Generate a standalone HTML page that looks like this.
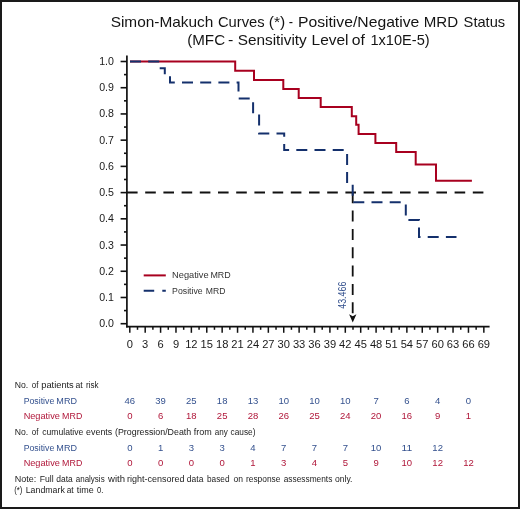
<!DOCTYPE html>
<html><head><meta charset="utf-8"><style>
html,body{margin:0;padding:0;background:#fff;}
svg{display:block;font-family:"Liberation Sans", sans-serif;will-change:transform;}
</style></head><body>
<svg width="520" height="509" viewBox="0 0 520 509">
<rect x="1" y="1" width="518" height="507" fill="#fff" stroke="#1a1a1a" stroke-width="2"/>
<text id="t1_0" x="110.67" y="26.7" font-size="15" textLength="102.70" lengthAdjust="spacingAndGlyphs" fill="#141414">Simon-Makuch</text>
<text id="t1_1" x="217.91" y="26.7" font-size="15" textLength="46.71" lengthAdjust="spacingAndGlyphs" fill="#141414">Curves</text>
<text id="t1_2" x="268.76" y="26.7" font-size="15" textLength="16.51" lengthAdjust="spacingAndGlyphs" fill="#141414">(*)</text>
<text id="t1_3" x="288.70" y="26.7" font-size="15" textLength="4.27" lengthAdjust="spacingAndGlyphs" fill="#141414">-</text>
<text id="t1_4" x="297.95" y="26.7" font-size="15" textLength="121.40" lengthAdjust="spacingAndGlyphs" fill="#141414">Positive/Negative</text>
<text id="t1_5" x="423.69" y="26.7" font-size="15" textLength="34.39" lengthAdjust="spacingAndGlyphs" fill="#141414">MRD</text>
<text id="t1_6" x="463.61" y="26.7" font-size="15" textLength="41.52" lengthAdjust="spacingAndGlyphs" fill="#141414">Status</text>
<text id="t2_0" x="187.19" y="45.4" font-size="15" textLength="37.92" lengthAdjust="spacingAndGlyphs" fill="#141414">(MFC</text>
<text id="t2_1" x="228.01" y="45.4" font-size="15" textLength="5.33" lengthAdjust="spacingAndGlyphs" fill="#141414">-</text>
<text id="t2_2" x="237.67" y="45.4" font-size="15" textLength="69.14" lengthAdjust="spacingAndGlyphs" fill="#141414">Sensitivity</text>
<text id="t2_3" x="311.58" y="45.4" font-size="15" textLength="36.91" lengthAdjust="spacingAndGlyphs" fill="#141414">Level</text>
<text id="t2_4" x="351.86" y="45.4" font-size="15" textLength="13.14" lengthAdjust="spacingAndGlyphs" fill="#141414">of</text>
<text id="t2_5" x="370.43" y="45.4" font-size="15" textLength="59.24" lengthAdjust="spacingAndGlyphs" fill="#141414">1x10E-5)</text>
<text id="lg1_0" x="172.09" y="278.25" font-size="9.2" textLength="36.50" lengthAdjust="spacingAndGlyphs" fill="#333">Negative</text>
<text id="lg1_1" x="210.41" y="278.25" font-size="9.2" textLength="20.31" lengthAdjust="spacingAndGlyphs" fill="#333">MRD</text>
<text id="lg2_0" x="172.11" y="293.75" font-size="9.2" textLength="30.58" lengthAdjust="spacingAndGlyphs" fill="#333">Positive</text>
<text id="lg2_1" x="205.76" y="293.75" font-size="9.2" textLength="19.69" lengthAdjust="spacingAndGlyphs" fill="#333">MRD</text>
<text id="h1_0" x="14.74" y="388.0" font-size="9.6" textLength="13.45" lengthAdjust="spacingAndGlyphs" fill="#222">No.</text>
<text id="h1_1" x="31.82" y="388.0" font-size="9.6" textLength="6.67" lengthAdjust="spacingAndGlyphs" fill="#222">of</text>
<text id="h1_2" x="41.24" y="388.0" font-size="9.6" textLength="32.54" lengthAdjust="spacingAndGlyphs" fill="#222">patients</text>
<text id="h1_3" x="75.41" y="388.0" font-size="9.6" textLength="7.21" lengthAdjust="spacingAndGlyphs" fill="#222">at</text>
<text id="h1_4" x="86.00" y="388.0" font-size="9.6" textLength="12.53" lengthAdjust="spacingAndGlyphs" fill="#222">risk</text>
<text id="p1_0" x="23.67" y="403.7" font-size="9.6" textLength="30.66" lengthAdjust="spacingAndGlyphs" fill="#34518e">Positive</text>
<text id="p1_1" x="56.35" y="403.7" font-size="9.6" textLength="20.62" lengthAdjust="spacingAndGlyphs" fill="#34518e">MRD</text>
<text id="n1_0" x="23.64" y="419.3" font-size="9.6" textLength="36.24" lengthAdjust="spacingAndGlyphs" fill="#b0173a">Negative</text>
<text id="n1_1" x="62.12" y="419.3" font-size="9.6" textLength="20.20" lengthAdjust="spacingAndGlyphs" fill="#b0173a">MRD</text>
<text id="h2_0" x="14.74" y="434.5" font-size="9.6" textLength="13.45" lengthAdjust="spacingAndGlyphs" fill="#222">No.</text>
<text id="h2_1" x="31.82" y="434.5" font-size="9.6" textLength="6.67" lengthAdjust="spacingAndGlyphs" fill="#222">of</text>
<text id="h2_2" x="42.29" y="434.5" font-size="9.6" textLength="41.07" lengthAdjust="spacingAndGlyphs" fill="#222">cumulative</text>
<text id="h2_3" x="86.11" y="434.5" font-size="9.6" textLength="26.09" lengthAdjust="spacingAndGlyphs" fill="#222">events</text>
<text id="h2_4" x="115.00" y="434.5" font-size="9.6" textLength="76.21" lengthAdjust="spacingAndGlyphs" fill="#222">(Progression/Death</text>
<text id="h2_5" x="193.79" y="434.5" font-size="9.6" textLength="17.98" lengthAdjust="spacingAndGlyphs" fill="#222">from</text>
<text id="h2_6" x="214.86" y="434.5" font-size="9.6" textLength="13.00" lengthAdjust="spacingAndGlyphs" fill="#222">any</text>
<text id="h2_7" x="230.58" y="434.5" font-size="9.6" textLength="24.84" lengthAdjust="spacingAndGlyphs" fill="#222">cause)</text>
<text id="p2_0" x="23.67" y="450.5" font-size="9.6" textLength="30.66" lengthAdjust="spacingAndGlyphs" fill="#34518e">Positive</text>
<text id="p2_1" x="56.35" y="450.5" font-size="9.6" textLength="20.62" lengthAdjust="spacingAndGlyphs" fill="#34518e">MRD</text>
<text id="n2_0" x="23.64" y="466.2" font-size="9.6" textLength="36.24" lengthAdjust="spacingAndGlyphs" fill="#b0173a">Negative</text>
<text id="n2_1" x="62.12" y="466.2" font-size="9.6" textLength="20.20" lengthAdjust="spacingAndGlyphs" fill="#b0173a">MRD</text>
<text id="nt_0" x="14.66" y="482.3" font-size="9.3" textLength="21.52" lengthAdjust="spacingAndGlyphs" fill="#222">Note:</text>
<text id="nt_1" x="39.71" y="482.3" font-size="9.3" textLength="13.91" lengthAdjust="spacingAndGlyphs" fill="#222">Full</text>
<text id="nt_2" x="56.29" y="482.3" font-size="9.3" textLength="16.50" lengthAdjust="spacingAndGlyphs" fill="#222">data</text>
<text id="nt_3" x="75.72" y="482.3" font-size="9.3" textLength="28.94" lengthAdjust="spacingAndGlyphs" fill="#222">analysis</text>
<text id="nt_4" x="108.00" y="482.3" font-size="9.3" textLength="16.97" lengthAdjust="spacingAndGlyphs" fill="#222">with</text>
<text id="nt_5" x="127.10" y="482.3" font-size="9.3" textLength="57.43" lengthAdjust="spacingAndGlyphs" fill="#222">right-censored</text>
<text id="nt_6" x="186.86" y="482.3" font-size="9.3" textLength="16.50" lengthAdjust="spacingAndGlyphs" fill="#222">data</text>
<text id="nt_7" x="207.00" y="482.3" font-size="9.3" textLength="22.51" lengthAdjust="spacingAndGlyphs" fill="#222">based</text>
<text id="nt_8" x="233.54" y="482.3" font-size="9.3" textLength="9.51" lengthAdjust="spacingAndGlyphs" fill="#222">on</text>
<text id="nt_9" x="246.00" y="482.3" font-size="9.3" textLength="34.42" lengthAdjust="spacingAndGlyphs" fill="#222">response</text>
<text id="nt_10" x="283.71" y="482.3" font-size="9.3" textLength="48.64" lengthAdjust="spacingAndGlyphs" fill="#222">assessments</text>
<text id="nt_11" x="335.00" y="482.3" font-size="9.3" textLength="17.51" lengthAdjust="spacingAndGlyphs" fill="#222">only.</text>
<text id="ld_0" x="14.26" y="492.6" font-size="9.3" textLength="8.15" lengthAdjust="spacingAndGlyphs" fill="#222">(*)</text>
<text id="ld_1" x="25.74" y="492.6" font-size="9.3" textLength="39.08" lengthAdjust="spacingAndGlyphs" fill="#222">Landmark</text>
<text id="ld_2" x="66.71" y="492.6" font-size="9.3" textLength="6.99" lengthAdjust="spacingAndGlyphs" fill="#222">at</text>
<text id="ld_3" x="76.70" y="492.6" font-size="9.3" textLength="16.97" lengthAdjust="spacingAndGlyphs" fill="#222">time</text>
<text id="ld_4" x="97.00" y="492.6" font-size="9.3" textLength="6.29" lengthAdjust="spacingAndGlyphs" fill="#222">0.</text>
<line x1="126.9" y1="55.5" x2="126.9" y2="327.6" stroke="#111" stroke-width="1.7"/>
<line x1="126.05" y1="326.7" x2="489.6" y2="326.7" stroke="#111" stroke-width="1.8"/>
<line x1="120.6" y1="323.70" x2="127" y2="323.70" stroke="#111" stroke-width="1.6"/>
<text x="113.9" y="327.20" font-size="10.6" text-anchor="end" fill="#1a1a1a">0.0</text>
<line x1="120.6" y1="297.48" x2="127" y2="297.48" stroke="#111" stroke-width="1.6"/>
<text x="113.9" y="300.98" font-size="10.6" text-anchor="end" fill="#1a1a1a">0.1</text>
<line x1="120.6" y1="271.26" x2="127" y2="271.26" stroke="#111" stroke-width="1.6"/>
<text x="113.9" y="274.76" font-size="10.6" text-anchor="end" fill="#1a1a1a">0.2</text>
<line x1="120.6" y1="245.04" x2="127" y2="245.04" stroke="#111" stroke-width="1.6"/>
<text x="113.9" y="248.54" font-size="10.6" text-anchor="end" fill="#1a1a1a">0.3</text>
<line x1="120.6" y1="218.82" x2="127" y2="218.82" stroke="#111" stroke-width="1.6"/>
<text x="113.9" y="222.32" font-size="10.6" text-anchor="end" fill="#1a1a1a">0.4</text>
<line x1="120.6" y1="192.60" x2="127" y2="192.60" stroke="#111" stroke-width="1.6"/>
<text x="113.9" y="196.10" font-size="10.6" text-anchor="end" fill="#1a1a1a">0.5</text>
<line x1="120.6" y1="166.38" x2="127" y2="166.38" stroke="#111" stroke-width="1.6"/>
<text x="113.9" y="169.88" font-size="10.6" text-anchor="end" fill="#1a1a1a">0.6</text>
<line x1="120.6" y1="140.16" x2="127" y2="140.16" stroke="#111" stroke-width="1.6"/>
<text x="113.9" y="143.66" font-size="10.6" text-anchor="end" fill="#1a1a1a">0.7</text>
<line x1="120.6" y1="113.94" x2="127" y2="113.94" stroke="#111" stroke-width="1.6"/>
<text x="113.9" y="117.44" font-size="10.6" text-anchor="end" fill="#1a1a1a">0.8</text>
<line x1="120.6" y1="87.72" x2="127" y2="87.72" stroke="#111" stroke-width="1.6"/>
<text x="113.9" y="91.22" font-size="10.6" text-anchor="end" fill="#1a1a1a">0.9</text>
<line x1="120.6" y1="61.50" x2="127" y2="61.50" stroke="#111" stroke-width="1.6"/>
<text x="113.9" y="65.00" font-size="10.6" text-anchor="end" fill="#1a1a1a">1.0</text>
<line x1="124" y1="310.59" x2="127" y2="310.59" stroke="#111" stroke-width="1.6"/>
<line x1="124" y1="284.37" x2="127" y2="284.37" stroke="#111" stroke-width="1.6"/>
<line x1="124" y1="258.15" x2="127" y2="258.15" stroke="#111" stroke-width="1.6"/>
<line x1="124" y1="231.93" x2="127" y2="231.93" stroke="#111" stroke-width="1.6"/>
<line x1="124" y1="205.71" x2="127" y2="205.71" stroke="#111" stroke-width="1.6"/>
<line x1="124" y1="179.49" x2="127" y2="179.49" stroke="#111" stroke-width="1.6"/>
<line x1="124" y1="153.27" x2="127" y2="153.27" stroke="#111" stroke-width="1.6"/>
<line x1="124" y1="127.05" x2="127" y2="127.05" stroke="#111" stroke-width="1.6"/>
<line x1="124" y1="100.83" x2="127" y2="100.83" stroke="#111" stroke-width="1.6"/>
<line x1="124" y1="74.61" x2="127" y2="74.61" stroke="#111" stroke-width="1.6"/>
<line x1="129.80" y1="326" x2="129.80" y2="332.8" stroke="#111" stroke-width="1.5"/>
<text x="129.80" y="348.3" font-size="11.7" text-anchor="middle" textLength="6.20" lengthAdjust="spacingAndGlyphs" fill="#1a1a1a">0</text>
<line x1="145.19" y1="326" x2="145.19" y2="332.8" stroke="#111" stroke-width="1.5"/>
<text x="145.19" y="348.3" font-size="11.7" text-anchor="middle" textLength="6.20" lengthAdjust="spacingAndGlyphs" fill="#1a1a1a">3</text>
<line x1="160.59" y1="326" x2="160.59" y2="332.8" stroke="#111" stroke-width="1.5"/>
<text x="160.59" y="348.3" font-size="11.7" text-anchor="middle" textLength="6.20" lengthAdjust="spacingAndGlyphs" fill="#1a1a1a">6</text>
<line x1="175.98" y1="326" x2="175.98" y2="332.8" stroke="#111" stroke-width="1.5"/>
<text x="175.98" y="348.3" font-size="11.7" text-anchor="middle" textLength="6.20" lengthAdjust="spacingAndGlyphs" fill="#1a1a1a">9</text>
<line x1="191.37" y1="326" x2="191.37" y2="332.8" stroke="#111" stroke-width="1.5"/>
<text x="191.37" y="348.3" font-size="11.7" text-anchor="middle" textLength="12.40" lengthAdjust="spacingAndGlyphs" fill="#1a1a1a">12</text>
<line x1="206.77" y1="326" x2="206.77" y2="332.8" stroke="#111" stroke-width="1.5"/>
<text x="206.77" y="348.3" font-size="11.7" text-anchor="middle" textLength="12.40" lengthAdjust="spacingAndGlyphs" fill="#1a1a1a">15</text>
<line x1="222.16" y1="326" x2="222.16" y2="332.8" stroke="#111" stroke-width="1.5"/>
<text x="222.16" y="348.3" font-size="11.7" text-anchor="middle" textLength="12.40" lengthAdjust="spacingAndGlyphs" fill="#1a1a1a">18</text>
<line x1="237.55" y1="326" x2="237.55" y2="332.8" stroke="#111" stroke-width="1.5"/>
<text x="237.55" y="348.3" font-size="11.7" text-anchor="middle" textLength="12.40" lengthAdjust="spacingAndGlyphs" fill="#1a1a1a">21</text>
<line x1="252.94" y1="326" x2="252.94" y2="332.8" stroke="#111" stroke-width="1.5"/>
<text x="252.94" y="348.3" font-size="11.7" text-anchor="middle" textLength="12.40" lengthAdjust="spacingAndGlyphs" fill="#1a1a1a">24</text>
<line x1="268.34" y1="326" x2="268.34" y2="332.8" stroke="#111" stroke-width="1.5"/>
<text x="268.34" y="348.3" font-size="11.7" text-anchor="middle" textLength="12.40" lengthAdjust="spacingAndGlyphs" fill="#1a1a1a">27</text>
<line x1="283.73" y1="326" x2="283.73" y2="332.8" stroke="#111" stroke-width="1.5"/>
<text x="283.73" y="348.3" font-size="11.7" text-anchor="middle" textLength="12.40" lengthAdjust="spacingAndGlyphs" fill="#1a1a1a">30</text>
<line x1="299.12" y1="326" x2="299.12" y2="332.8" stroke="#111" stroke-width="1.5"/>
<text x="299.12" y="348.3" font-size="11.7" text-anchor="middle" textLength="12.40" lengthAdjust="spacingAndGlyphs" fill="#1a1a1a">33</text>
<line x1="314.52" y1="326" x2="314.52" y2="332.8" stroke="#111" stroke-width="1.5"/>
<text x="314.52" y="348.3" font-size="11.7" text-anchor="middle" textLength="12.40" lengthAdjust="spacingAndGlyphs" fill="#1a1a1a">36</text>
<line x1="329.91" y1="326" x2="329.91" y2="332.8" stroke="#111" stroke-width="1.5"/>
<text x="329.91" y="348.3" font-size="11.7" text-anchor="middle" textLength="12.40" lengthAdjust="spacingAndGlyphs" fill="#1a1a1a">39</text>
<line x1="345.30" y1="326" x2="345.30" y2="332.8" stroke="#111" stroke-width="1.5"/>
<text x="345.30" y="348.3" font-size="11.7" text-anchor="middle" textLength="12.40" lengthAdjust="spacingAndGlyphs" fill="#1a1a1a">42</text>
<line x1="360.70" y1="326" x2="360.70" y2="332.8" stroke="#111" stroke-width="1.5"/>
<text x="360.70" y="348.3" font-size="11.7" text-anchor="middle" textLength="12.40" lengthAdjust="spacingAndGlyphs" fill="#1a1a1a">45</text>
<line x1="376.09" y1="326" x2="376.09" y2="332.8" stroke="#111" stroke-width="1.5"/>
<text x="376.09" y="348.3" font-size="11.7" text-anchor="middle" textLength="12.40" lengthAdjust="spacingAndGlyphs" fill="#1a1a1a">48</text>
<line x1="391.48" y1="326" x2="391.48" y2="332.8" stroke="#111" stroke-width="1.5"/>
<text x="391.48" y="348.3" font-size="11.7" text-anchor="middle" textLength="12.40" lengthAdjust="spacingAndGlyphs" fill="#1a1a1a">51</text>
<line x1="406.87" y1="326" x2="406.87" y2="332.8" stroke="#111" stroke-width="1.5"/>
<text x="406.87" y="348.3" font-size="11.7" text-anchor="middle" textLength="12.40" lengthAdjust="spacingAndGlyphs" fill="#1a1a1a">54</text>
<line x1="422.27" y1="326" x2="422.27" y2="332.8" stroke="#111" stroke-width="1.5"/>
<text x="422.27" y="348.3" font-size="11.7" text-anchor="middle" textLength="12.40" lengthAdjust="spacingAndGlyphs" fill="#1a1a1a">57</text>
<line x1="437.66" y1="326" x2="437.66" y2="332.8" stroke="#111" stroke-width="1.5"/>
<text x="437.66" y="348.3" font-size="11.7" text-anchor="middle" textLength="12.40" lengthAdjust="spacingAndGlyphs" fill="#1a1a1a">60</text>
<line x1="453.05" y1="326" x2="453.05" y2="332.8" stroke="#111" stroke-width="1.5"/>
<text x="453.05" y="348.3" font-size="11.7" text-anchor="middle" textLength="12.40" lengthAdjust="spacingAndGlyphs" fill="#1a1a1a">63</text>
<line x1="468.45" y1="326" x2="468.45" y2="332.8" stroke="#111" stroke-width="1.5"/>
<text x="468.45" y="348.3" font-size="11.7" text-anchor="middle" textLength="12.40" lengthAdjust="spacingAndGlyphs" fill="#1a1a1a">66</text>
<line x1="483.84" y1="326" x2="483.84" y2="332.8" stroke="#111" stroke-width="1.5"/>
<text x="483.84" y="348.3" font-size="11.7" text-anchor="middle" textLength="12.40" lengthAdjust="spacingAndGlyphs" fill="#1a1a1a">69</text>
<line x1="137.50" y1="326" x2="137.50" y2="329.8" stroke="#111" stroke-width="1.5"/>
<line x1="152.89" y1="326" x2="152.89" y2="329.8" stroke="#111" stroke-width="1.5"/>
<line x1="168.28" y1="326" x2="168.28" y2="329.8" stroke="#111" stroke-width="1.5"/>
<line x1="183.68" y1="326" x2="183.68" y2="329.8" stroke="#111" stroke-width="1.5"/>
<line x1="199.07" y1="326" x2="199.07" y2="329.8" stroke="#111" stroke-width="1.5"/>
<line x1="214.46" y1="326" x2="214.46" y2="329.8" stroke="#111" stroke-width="1.5"/>
<line x1="229.85" y1="326" x2="229.85" y2="329.8" stroke="#111" stroke-width="1.5"/>
<line x1="245.25" y1="326" x2="245.25" y2="329.8" stroke="#111" stroke-width="1.5"/>
<line x1="260.64" y1="326" x2="260.64" y2="329.8" stroke="#111" stroke-width="1.5"/>
<line x1="276.03" y1="326" x2="276.03" y2="329.8" stroke="#111" stroke-width="1.5"/>
<line x1="291.43" y1="326" x2="291.43" y2="329.8" stroke="#111" stroke-width="1.5"/>
<line x1="306.82" y1="326" x2="306.82" y2="329.8" stroke="#111" stroke-width="1.5"/>
<line x1="322.21" y1="326" x2="322.21" y2="329.8" stroke="#111" stroke-width="1.5"/>
<line x1="337.61" y1="326" x2="337.61" y2="329.8" stroke="#111" stroke-width="1.5"/>
<line x1="353.00" y1="326" x2="353.00" y2="329.8" stroke="#111" stroke-width="1.5"/>
<line x1="368.39" y1="326" x2="368.39" y2="329.8" stroke="#111" stroke-width="1.5"/>
<line x1="383.78" y1="326" x2="383.78" y2="329.8" stroke="#111" stroke-width="1.5"/>
<line x1="399.18" y1="326" x2="399.18" y2="329.8" stroke="#111" stroke-width="1.5"/>
<line x1="414.57" y1="326" x2="414.57" y2="329.8" stroke="#111" stroke-width="1.5"/>
<line x1="429.96" y1="326" x2="429.96" y2="329.8" stroke="#111" stroke-width="1.5"/>
<line x1="445.36" y1="326" x2="445.36" y2="329.8" stroke="#111" stroke-width="1.5"/>
<line x1="460.75" y1="326" x2="460.75" y2="329.8" stroke="#111" stroke-width="1.5"/>
<line x1="476.14" y1="326" x2="476.14" y2="329.8" stroke="#111" stroke-width="1.5"/>
<line x1="127" y1="192.5" x2="484.1" y2="192.5" stroke="#111" stroke-width="1.8" stroke-dasharray="10.6 7.6"/>
<line x1="352.7" y1="192.2" x2="352.7" y2="314" stroke="#111" stroke-width="1.8" stroke-dasharray="11 7.35"/>
<path d="M349.1,314.3 L352.75,316.2 L356.4,314.3 L352.75,322.5 Z" fill="#111"/>
<text id="lbl" transform="translate(346.1,308.7) rotate(-90)" font-size="10" textLength="27" lengthAdjust="spacingAndGlyphs" fill="#34518e">43.466</text>
<path d="M130,61.6 H235.2 V70.8 H254 V80 H283.3 V88.9 H298.7 V97.9 H320.7 V107.1 H351.8 V116.2 H356.2 V124.7 H358.6 V134 H375.4 V143 H396.2 V152.1 H415.7 V164.6 H436 V180.8 H471.9" fill="none" stroke="#a8001f" stroke-width="2" stroke-linejoin="miter"/>
<path d="M130,61.6 H159.6 V68.3 H164.8 V75.3 H170 V82.4 H238.5 V98.5 H253.1 V114.3 H259.1 V133.5 H284.2 V150.1 H347.1 V184.5 H352.7 V202.3 H405.8 V220 H419.0 V237.1 H456.5" fill="none" stroke="#14306c" stroke-width="2" stroke-dasharray="11 7.2" stroke-linejoin="miter"/>
<line x1="143.7" y1="275.4" x2="165.8" y2="275.4" stroke="#a8001f" stroke-width="2"/>
<line x1="143.7" y1="290.8" x2="165.8" y2="290.8" stroke="#14306c" stroke-width="2" stroke-dasharray="10.5 8.1"/>
<text x="129.80" y="403.7" font-size="9.7" text-anchor="middle" textLength="10.60" lengthAdjust="spacingAndGlyphs" fill="#34518e">46</text>
<text x="160.59" y="403.7" font-size="9.7" text-anchor="middle" textLength="10.60" lengthAdjust="spacingAndGlyphs" fill="#34518e">39</text>
<text x="191.37" y="403.7" font-size="9.7" text-anchor="middle" textLength="10.60" lengthAdjust="spacingAndGlyphs" fill="#34518e">25</text>
<text x="222.16" y="403.7" font-size="9.7" text-anchor="middle" textLength="10.60" lengthAdjust="spacingAndGlyphs" fill="#34518e">18</text>
<text x="252.94" y="403.7" font-size="9.7" text-anchor="middle" textLength="10.60" lengthAdjust="spacingAndGlyphs" fill="#34518e">13</text>
<text x="283.73" y="403.7" font-size="9.7" text-anchor="middle" textLength="10.60" lengthAdjust="spacingAndGlyphs" fill="#34518e">10</text>
<text x="314.52" y="403.7" font-size="9.7" text-anchor="middle" textLength="10.60" lengthAdjust="spacingAndGlyphs" fill="#34518e">10</text>
<text x="345.30" y="403.7" font-size="9.7" text-anchor="middle" textLength="10.60" lengthAdjust="spacingAndGlyphs" fill="#34518e">10</text>
<text x="376.09" y="403.7" font-size="9.7" text-anchor="middle" textLength="5.30" lengthAdjust="spacingAndGlyphs" fill="#34518e">7</text>
<text x="406.87" y="403.7" font-size="9.7" text-anchor="middle" textLength="5.30" lengthAdjust="spacingAndGlyphs" fill="#34518e">6</text>
<text x="437.66" y="403.7" font-size="9.7" text-anchor="middle" textLength="5.30" lengthAdjust="spacingAndGlyphs" fill="#34518e">4</text>
<text x="468.45" y="403.7" font-size="9.7" text-anchor="middle" textLength="5.30" lengthAdjust="spacingAndGlyphs" fill="#34518e">0</text>
<text x="129.80" y="419.3" font-size="9.7" text-anchor="middle" textLength="5.30" lengthAdjust="spacingAndGlyphs" fill="#b0173a">0</text>
<text x="160.59" y="419.3" font-size="9.7" text-anchor="middle" textLength="5.30" lengthAdjust="spacingAndGlyphs" fill="#b0173a">6</text>
<text x="191.37" y="419.3" font-size="9.7" text-anchor="middle" textLength="10.60" lengthAdjust="spacingAndGlyphs" fill="#b0173a">18</text>
<text x="222.16" y="419.3" font-size="9.7" text-anchor="middle" textLength="10.60" lengthAdjust="spacingAndGlyphs" fill="#b0173a">25</text>
<text x="252.94" y="419.3" font-size="9.7" text-anchor="middle" textLength="10.60" lengthAdjust="spacingAndGlyphs" fill="#b0173a">28</text>
<text x="283.73" y="419.3" font-size="9.7" text-anchor="middle" textLength="10.60" lengthAdjust="spacingAndGlyphs" fill="#b0173a">26</text>
<text x="314.52" y="419.3" font-size="9.7" text-anchor="middle" textLength="10.60" lengthAdjust="spacingAndGlyphs" fill="#b0173a">25</text>
<text x="345.30" y="419.3" font-size="9.7" text-anchor="middle" textLength="10.60" lengthAdjust="spacingAndGlyphs" fill="#b0173a">24</text>
<text x="376.09" y="419.3" font-size="9.7" text-anchor="middle" textLength="10.60" lengthAdjust="spacingAndGlyphs" fill="#b0173a">20</text>
<text x="406.87" y="419.3" font-size="9.7" text-anchor="middle" textLength="10.60" lengthAdjust="spacingAndGlyphs" fill="#b0173a">16</text>
<text x="437.66" y="419.3" font-size="9.7" text-anchor="middle" textLength="5.30" lengthAdjust="spacingAndGlyphs" fill="#b0173a">9</text>
<text x="468.45" y="419.3" font-size="9.7" text-anchor="middle" textLength="5.30" lengthAdjust="spacingAndGlyphs" fill="#b0173a">1</text>
<text x="129.80" y="450.5" font-size="9.7" text-anchor="middle" textLength="5.30" lengthAdjust="spacingAndGlyphs" fill="#34518e">0</text>
<text x="160.59" y="450.5" font-size="9.7" text-anchor="middle" textLength="5.30" lengthAdjust="spacingAndGlyphs" fill="#34518e">1</text>
<text x="191.37" y="450.5" font-size="9.7" text-anchor="middle" textLength="5.30" lengthAdjust="spacingAndGlyphs" fill="#34518e">3</text>
<text x="222.16" y="450.5" font-size="9.7" text-anchor="middle" textLength="5.30" lengthAdjust="spacingAndGlyphs" fill="#34518e">3</text>
<text x="252.94" y="450.5" font-size="9.7" text-anchor="middle" textLength="5.30" lengthAdjust="spacingAndGlyphs" fill="#34518e">4</text>
<text x="283.73" y="450.5" font-size="9.7" text-anchor="middle" textLength="5.30" lengthAdjust="spacingAndGlyphs" fill="#34518e">7</text>
<text x="314.52" y="450.5" font-size="9.7" text-anchor="middle" textLength="5.30" lengthAdjust="spacingAndGlyphs" fill="#34518e">7</text>
<text x="345.30" y="450.5" font-size="9.7" text-anchor="middle" textLength="5.30" lengthAdjust="spacingAndGlyphs" fill="#34518e">7</text>
<text x="376.09" y="450.5" font-size="9.7" text-anchor="middle" textLength="10.60" lengthAdjust="spacingAndGlyphs" fill="#34518e">10</text>
<text x="406.87" y="450.5" font-size="9.7" text-anchor="middle" textLength="10.60" lengthAdjust="spacingAndGlyphs" fill="#34518e">11</text>
<text x="437.66" y="450.5" font-size="9.7" text-anchor="middle" textLength="10.60" lengthAdjust="spacingAndGlyphs" fill="#34518e">12</text>
<text x="129.80" y="466.2" font-size="9.7" text-anchor="middle" textLength="5.30" lengthAdjust="spacingAndGlyphs" fill="#b0173a">0</text>
<text x="160.59" y="466.2" font-size="9.7" text-anchor="middle" textLength="5.30" lengthAdjust="spacingAndGlyphs" fill="#b0173a">0</text>
<text x="191.37" y="466.2" font-size="9.7" text-anchor="middle" textLength="5.30" lengthAdjust="spacingAndGlyphs" fill="#b0173a">0</text>
<text x="222.16" y="466.2" font-size="9.7" text-anchor="middle" textLength="5.30" lengthAdjust="spacingAndGlyphs" fill="#b0173a">0</text>
<text x="252.94" y="466.2" font-size="9.7" text-anchor="middle" textLength="5.30" lengthAdjust="spacingAndGlyphs" fill="#b0173a">1</text>
<text x="283.73" y="466.2" font-size="9.7" text-anchor="middle" textLength="5.30" lengthAdjust="spacingAndGlyphs" fill="#b0173a">3</text>
<text x="314.52" y="466.2" font-size="9.7" text-anchor="middle" textLength="5.30" lengthAdjust="spacingAndGlyphs" fill="#b0173a">4</text>
<text x="345.30" y="466.2" font-size="9.7" text-anchor="middle" textLength="5.30" lengthAdjust="spacingAndGlyphs" fill="#b0173a">5</text>
<text x="376.09" y="466.2" font-size="9.7" text-anchor="middle" textLength="5.30" lengthAdjust="spacingAndGlyphs" fill="#b0173a">9</text>
<text x="406.87" y="466.2" font-size="9.7" text-anchor="middle" textLength="10.60" lengthAdjust="spacingAndGlyphs" fill="#b0173a">10</text>
<text x="437.66" y="466.2" font-size="9.7" text-anchor="middle" textLength="10.60" lengthAdjust="spacingAndGlyphs" fill="#b0173a">12</text>
<text x="468.45" y="466.2" font-size="9.7" text-anchor="middle" textLength="10.60" lengthAdjust="spacingAndGlyphs" fill="#b0173a">12</text>
</svg>
</body></html>
